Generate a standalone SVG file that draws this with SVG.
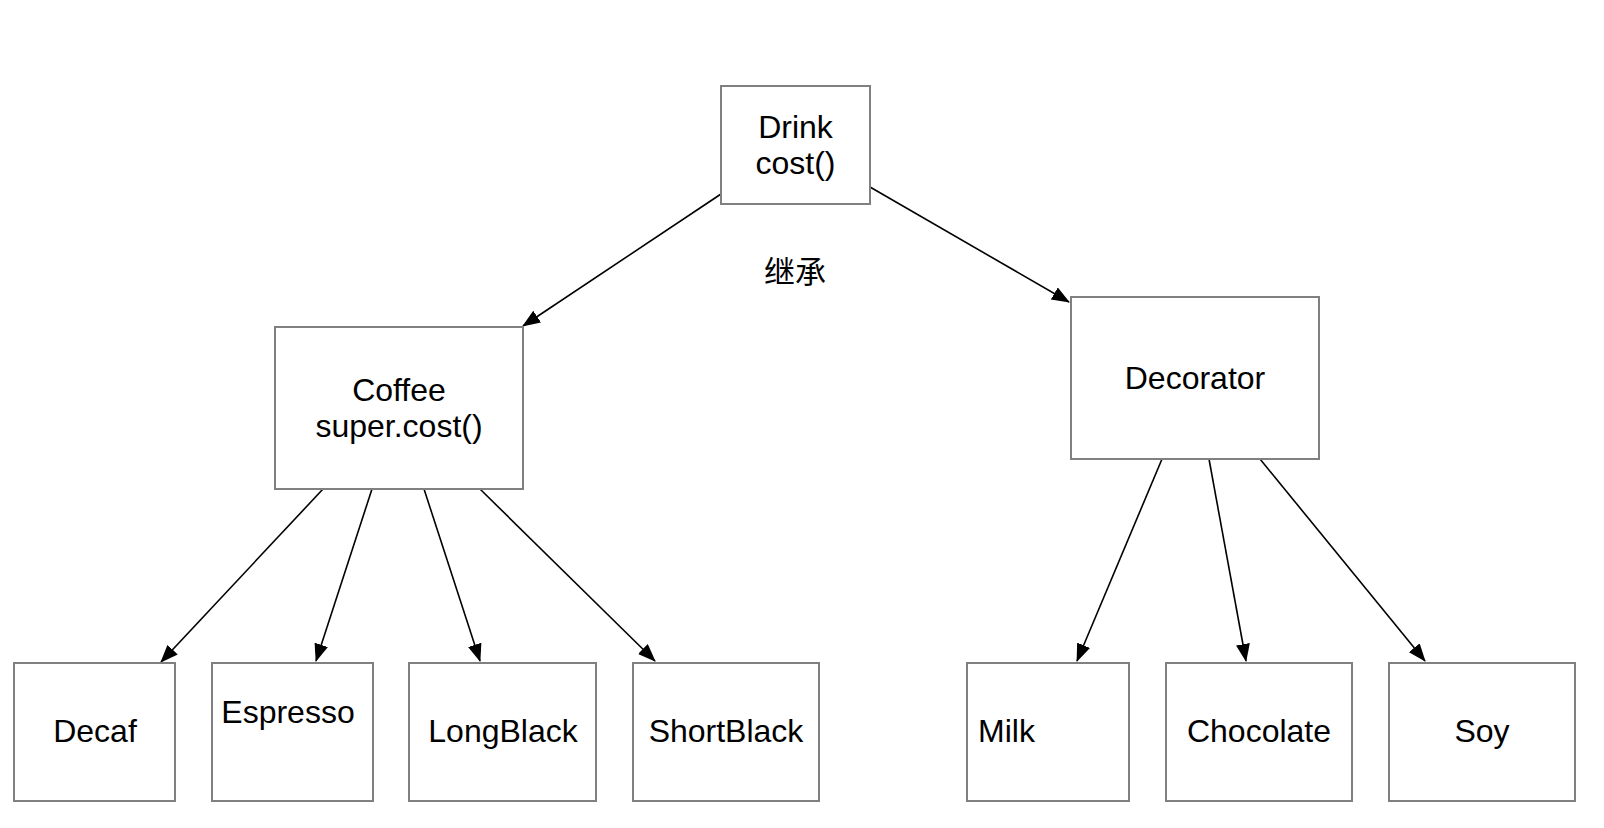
<svg xmlns="http://www.w3.org/2000/svg" width="1604" height="828" viewBox="0 0 1604 828">
<style>
.box{fill:#fff;stroke:#808080;stroke-width:2}
.t{font-family:"Liberation Sans",Arial,"Noto Sans CJK SC",sans-serif;font-size:32px;fill:#000}
.c{text-anchor:middle}
.e{fill:none;stroke:#000;stroke-width:1.6}
</style>
<defs>
<marker id="arr" markerUnits="userSpaceOnUse" markerWidth="19" markerHeight="15" refX="17" refY="7" orient="auto">
<path d="M0,0 L18,7 L0,14 Z" fill="#000"/>
</marker>
</defs>
<rect width="1604" height="828" fill="#fff"/>
<g id="connectors">
<line class="e" x1="721" y1="194" x2="523" y2="326" marker-end="url(#arr)"/>
<line class="e" x1="870" y1="187" x2="1069" y2="302" marker-end="url(#arr)"/>
<line class="e" x1="323" y1="489" x2="161" y2="662" marker-end="url(#arr)"/>
<line class="e" x1="372" y1="489" x2="316" y2="661" marker-end="url(#arr)"/>
<line class="e" x1="424" y1="489" x2="480" y2="661" marker-end="url(#arr)"/>
<line class="e" x1="480" y1="489" x2="655" y2="661" marker-end="url(#arr)"/>
<line class="e" x1="1162" y1="459" x2="1077" y2="661" marker-end="url(#arr)"/>
<line class="e" x1="1209" y1="459" x2="1246" y2="661" marker-end="url(#arr)"/>
<line class="e" x1="1260" y1="459" x2="1425" y2="661" marker-end="url(#arr)"/>
</g>
<g id="label-inherit">
<text class="t c" x="795" y="283" style="font-family:'Noto Sans CJK SC',sans-serif;font-size:31px">继承</text>
</g>
<g id="drink">
<rect class="box" x="721" y="86" width="149" height="118"/>
<text class="t c" x="795.5" y="138">Drink</text>
<text class="t c" x="795.5" y="174">cost()</text>
</g>
<g id="coffee">
<rect class="box" x="275" y="327" width="248" height="162"/>
<text class="t c" x="399" y="401">Coffee</text>
<text class="t c" x="399" y="437">super.cost()</text>
</g>
<g id="decorator">
<rect class="box" x="1071" y="297" width="248" height="162"/>
<text class="t c" x="1195" y="389">Decorator</text>
</g>
<g id="decaf">
<rect class="box" x="14" y="663" width="161" height="138"/>
<text class="t c" x="95" y="742">Decaf</text>
</g>
<g id="espresso">
<rect class="box" x="212" y="663" width="161" height="138"/>
<text class="t c" x="288" y="723">Espresso</text>
</g>
<g id="longblack">
<rect class="box" x="409" y="663" width="187" height="138"/>
<text class="t c" x="503" y="742">LongBlack</text>
</g>
<g id="shortblack">
<rect class="box" x="633" y="663" width="186" height="138"/>
<text class="t c" x="726" y="742">ShortBlack</text>
</g>
<g id="milk">
<rect class="box" x="967" y="663" width="162" height="138"/>
<text class="t" x="978" y="742">Milk</text>
</g>
<g id="chocolate">
<rect class="box" x="1166" y="663" width="186" height="138"/>
<text class="t c" x="1259" y="742">Chocolate</text>
</g>
<g id="soy">
<rect class="box" x="1389" y="663" width="186" height="138"/>
<text class="t c" x="1482" y="742">Soy</text>
</g>
</svg>
